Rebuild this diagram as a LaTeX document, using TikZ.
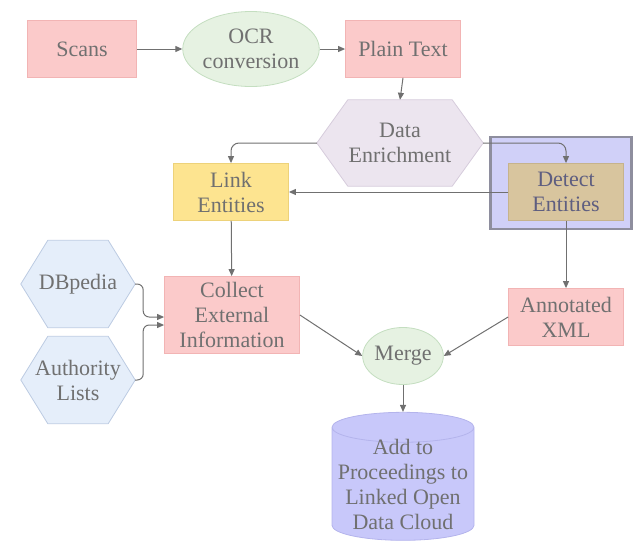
\documentclass[tikz,border=0pt]{standalone}
\usepackage{fontspec}
\setmainfont{Liberation Serif}
\usetikzlibrary{arrows.meta,shapes.geometric,backgrounds}
\definecolor{cT}{HTML}{707070}
\definecolor{cPink}{HTML}{FBCACA}
\definecolor{cPinkD}{HTML}{F2B4B4}
\definecolor{cGreen}{HTML}{E6F2E2}
\definecolor{cGreenD}{HTML}{C4DEC0}
\definecolor{cLav}{HTML}{ECE5EF}
\definecolor{cLavD}{HTML}{D6CCDC}
\definecolor{cYel}{HTML}{FDE490}
\definecolor{cYelD}{HTML}{EDD27A}
\definecolor{cTan}{HTML}{D8C59E}
\definecolor{cTanD}{HTML}{C6B38C}
\definecolor{cHi}{HTML}{D0D0F8}
\definecolor{cHiD}{HTML}{8E8E9E}
\definecolor{cSky}{HTML}{E5EEFA}
\definecolor{cSkyD}{HTML}{BCCBE2}
\definecolor{cDB}{HTML}{C8C8FA}
\definecolor{cDBD}{HTML}{B4B4EC}
\definecolor{cSlate}{HTML}{5E5E80}
\tikzset{
  lbl/.style={font=\fontsize{22}{25}\selectfont,text=cT,align=center,inner sep=0pt},
  box/.style={lbl,draw=cPinkD,fill=cPink,line width=0.8pt,
              minimum width=115pt,minimum height=57pt},
  oval/.style={lbl,ellipse,draw=cGreenD,fill=cGreen,line width=0.8pt},
  hexa/.style={lbl,minimum width=114pt,minimum height=87pt},
  ybox/.style={box,draw=cYelD,fill=cYel},
  hilite/.style={draw=cHiD,fill=cHi,line width=2.5pt,
                 minimum width=141pt,minimum height=92pt},
  store/.style={lbl,cylinder,shape border rotate=90,aspect=0.23,
                inner xsep=0pt,inner ysep=-7pt,
                draw=cDBD,fill=cDB,line width=0.8pt,
                minimum width=142pt,minimum height=128pt},
  flow/.style={-{Triangle[length=7pt,width=6pt]},line width=1pt,draw=cT},
}

\begin{document}
\begin{tikzpicture}[x=1pt,y=-1pt]
  \useasboundingbox (0,0) rectangle (634,544);
  % top row
  \node[box,minimum width=109pt] (scans) at (82,49) {Scans};
  \node[oval,minimum width=133pt,minimum height=75pt] (ocr) at (251,49) {OCR\\conversion};
  \node[box] (plain) at (403,49) {Plain Text};
  % enrichment step
  \node[hexa,minimum width=166pt,minimum height=86pt] (enrich) at (400,143) {Data\\Enrichment};
  \node[ybox] (link) at (231,192) {Link\\Entities};
  \node[ybox,draw=cTanD,fill=cTan,text=cSlate] (detect) at (566,192) {Detect\\Entities};
  % sources and results
  \node[hexa] (dbp) at (78,284) {DBpedia};
  \node[hexa] (auth) at (78,380) {Authority\\Lists};
  \node[box,minimum width=135pt,minimum height=77pt] (collect) at (232,315)
    {Collect\\External\\Information};
  \node[box] (annot) at (566,317) {Annotated\\XML};
  \node[oval,minimum width=76pt,minimum height=57pt] (merge) at (403,356) {Merge};
  \node[store] (cloud) at (403,484) {Add to\\Proceedings to\\Linked Open\\Data Cloud};
  \begin{scope}[on background layer]
    \node[hilite] (hi) at (561,183) {};
    \foreach \h/\s/\c in {enrich/31/cLav,dbp/27/cSky,auth/27/cSky}
      \draw[draw=\c D,fill=\c,line width=0.8pt] (\h.west) -- ([xshift=\s pt]\h.north west)
        -- ([xshift=-\s pt]\h.north east) -- (\h.east) -- ([xshift=-\s pt]\h.south east)
        -- ([xshift=\s pt]\h.south west) -- cycle;
  \end{scope}
  % connectors
  \draw[flow] (scans) -- (ocr);
  \draw[flow] (ocr) -- (plain);
  \draw[flow] (plain.south) -- (enrich.north);
  \draw[flow,rounded corners=8pt] (enrich.west) -| (link.north);
  \draw[flow,rounded corners=8pt] (enrich.east) -| (detect.north);
  \draw[flow] (detect.west) -- (link.east);
  \draw[flow] (link) -- (collect);
  \draw[flow] (detect) -- (annot);
  \draw[flow,rounded corners=6pt] (dbp.east) -- ++(8,0) |- ([yshift=-2pt]collect.west);
  \draw[flow,rounded corners=6pt] (auth.east) -- ++(8,0) |- ([yshift=-10pt]collect.west);
  \draw[flow] (collect.east) -- (merge.west);
  \draw[flow] (annot.west) -- (merge.east);
  \draw[flow] (merge) -- (cloud);
\end{tikzpicture}
\end{document}
